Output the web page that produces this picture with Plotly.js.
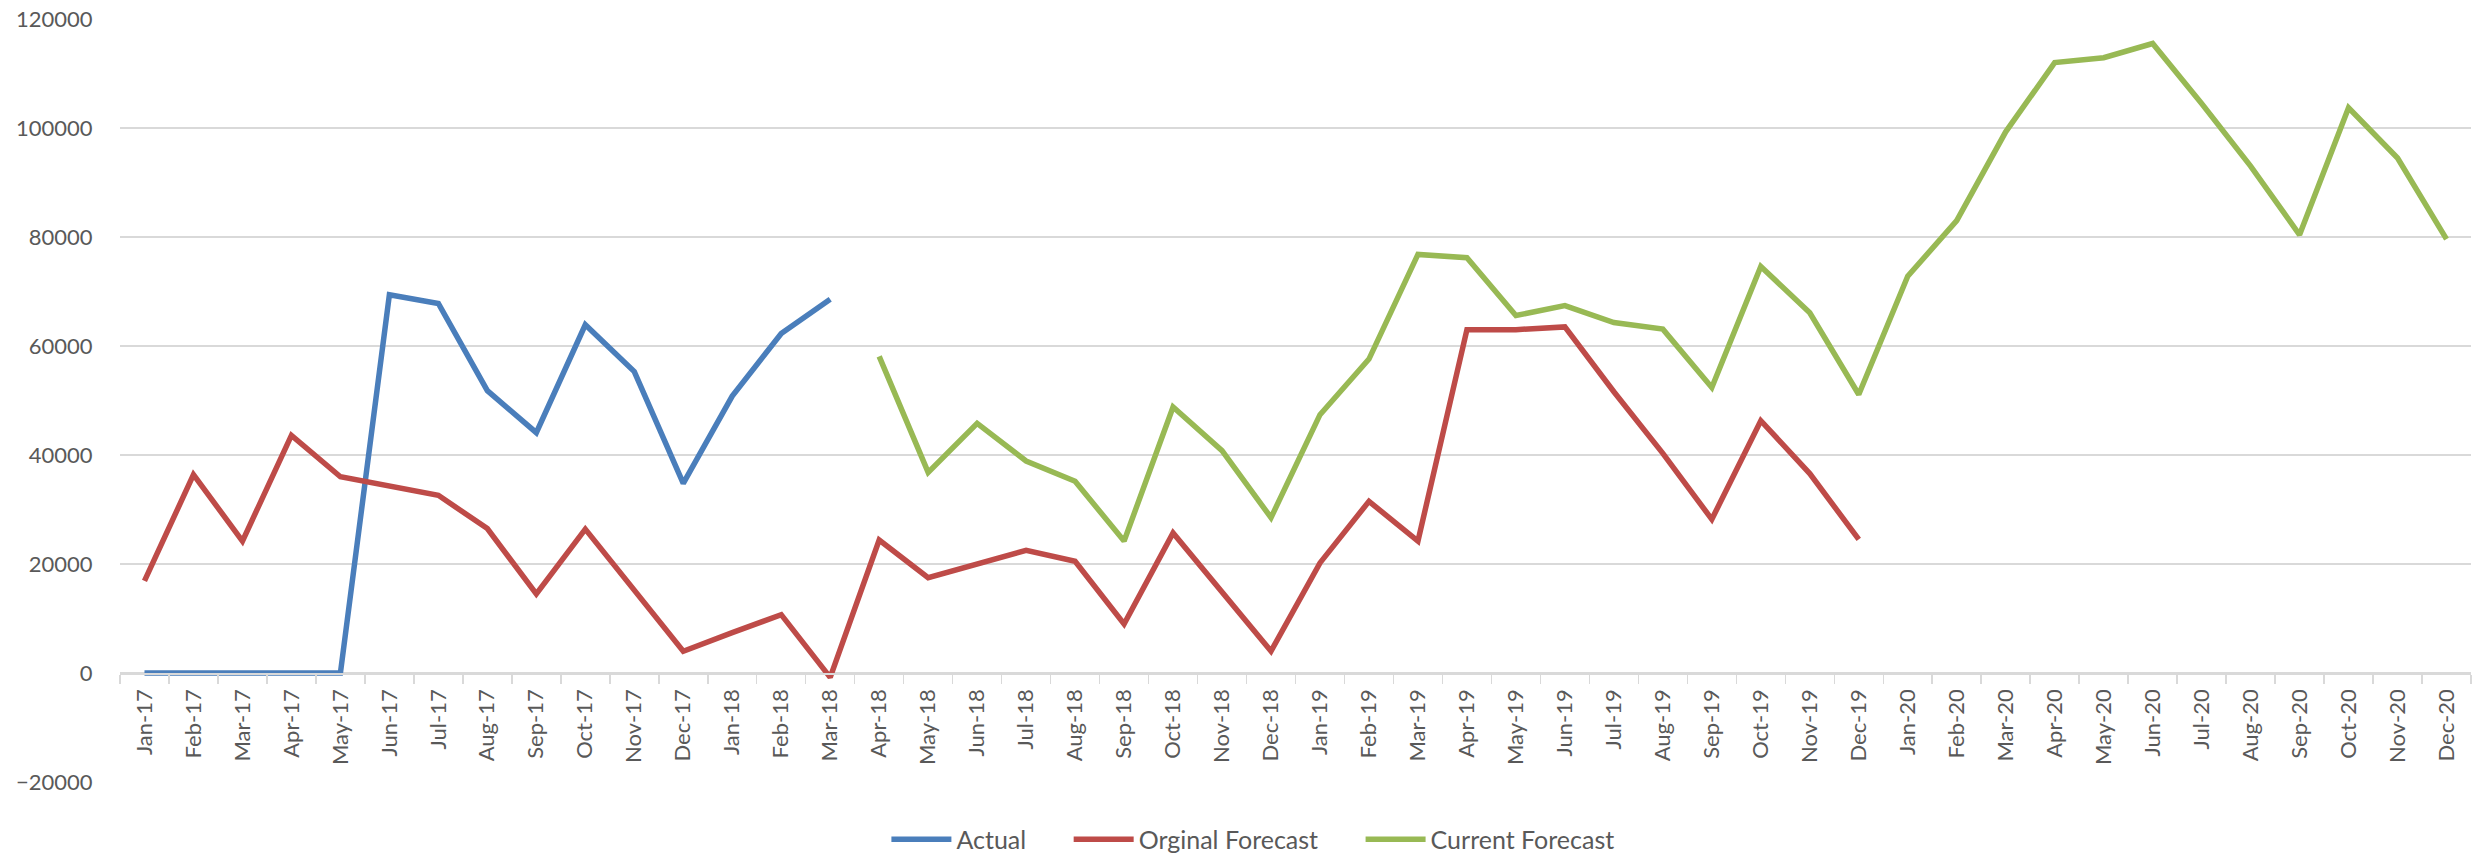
<!DOCTYPE html>
<html>
<head>
<meta charset="utf-8">
<script src="https://cdn.plot.ly/plotly-3.0.1.min.js"></script>
<style>html,body{margin:0;padding:0;background:#fff;}#chart{width:2481px;height:855px;}</style>
</head>
<body>
<div id="chart"></div>
<script>
const months = ["Jan-17","Feb-17","Mar-17","Apr-17","May-17","Jun-17","Jul-17","Aug-17","Sep-17","Oct-17","Nov-17","Dec-17",
"Jan-18","Feb-18","Mar-18","Apr-18","May-18","Jun-18","Jul-18","Aug-18","Sep-18","Oct-18","Nov-18","Dec-18",
"Jan-19","Feb-19","Mar-19","Apr-19","May-19","Jun-19","Jul-19","Aug-19","Sep-19","Oct-19","Nov-19","Dec-19",
"Jan-20","Feb-20","Mar-20","Apr-20","May-20","Jun-20","Jul-20","Aug-20","Sep-20","Oct-20","Nov-20","Dec-20"];

const actual = [0,0,0,0,0,69400,67800,51800,44100,63900,55300,34800,
50800,62300,68600,null,null,null,null,null,null,null,null,null,
null,null,null,null,null,null,null,null,null,null,null,null,
null,null,null,null,null,null,null,null,null,null,null,null];

const originalForecast = [16900,36400,24200,43600,36000,34300,32600,26500,14500,26400,15200,4000,
7400,10700,-800,24400,17500,20000,22500,20500,9000,25700,14700,4000,
20200,31500,24200,63000,63000,63500,51600,40300,28200,46300,36600,24500,
null,null,null,null,null,null,null,null,null,null,null,null];

const currentForecast = [null,null,null,null,null,null,null,null,null,null,null,null,
null,null,null,58100,36800,45800,38900,35200,24200,48800,40800,28500,
47400,57600,76800,76200,65600,67400,64300,63100,52400,74600,66100,51100,
72800,83000,99300,112000,112900,115500,104500,93000,80400,103700,94500,79600];

const seriesNames = ["Actual","Orginal Forecast","Current Forecast"];
const seriesColors = ["#4a7ebb","#be4b48","#98b954"];
const seriesData = [actual, originalForecast, currentForecast];

const pad = "\u2003\u2003";
const traces = seriesData.map((d,i)=>({
  type:"scatter", mode:"lines",
  name: seriesNames[i] + (i < seriesNames.length-1 ? pad : ""),
  x:months, y:d,
  line:{color:seriesColors[i], width:5.5}, connectgaps:false
}));

const fam = "Lato, 'Open Sans', sans-serif";
const layout = {
  width:2481, height:855,
  margin:{l:120, r:10, t:19, b:73},
  paper_bgcolor:"#fff", plot_bgcolor:"#fff",
  font:{family:fam, size:22, color:"#595959"},
  showlegend:true,
  legend:{orientation:"h", x:0.505, xref:"container", xanchor:"center",
          y:0.018, yref:"container", yanchor:"middle",
          font:{family:fam, size:25, color:"#595959"}, itemwidth:60, tracegroupgap:0},
  xaxis:{type:"category", range:[-0.5,47.5], anchor:"free", position:1/7, automargin:false,
         showline:true, linecolor:"#d9d9d9", linewidth:1.5,
         ticks:"outside", tickson:"boundaries", ticklen:9, tickcolor:"#d9d9d9", tickwidth:1.5,
         tickangle:-90, showgrid:false, ticklabelstandoff:6,
         tickfont:{family:fam, size:22, color:"#595959"}},
  yaxis:{range:[-20000,120000], dtick:20000, tick0:0, automargin:false,
         showgrid:true, gridcolor:"#d9d9d9", gridwidth:1.5, zeroline:false,
         showline:false, ticks:"outside", ticklen:22, tickcolor:"rgba(0,0,0,0)",
         tickformat:"d", tickfont:{family:fam, size:22, color:"#595959"}}
};

Plotly.newPlot("chart", traces, layout, {displayModeBar:false, staticPlot:true});
</script>
</body>
</html>
